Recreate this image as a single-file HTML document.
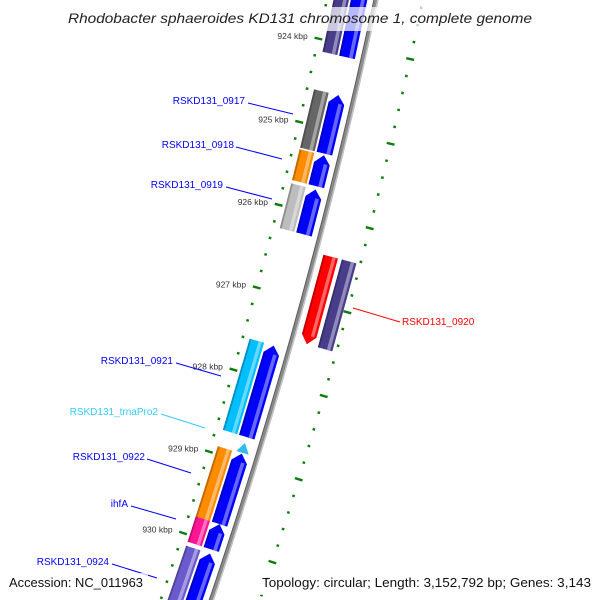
<!DOCTYPE html>
<html><head><meta charset="utf-8"><style>
html,body{margin:0;padding:0;background:#fff;width:600px;height:600px;overflow:hidden;}
svg{display:block;font-family:"Liberation Sans",sans-serif;}
</style></head><body>
<svg id="map" width="600" height="600" viewBox="0 0 600 600" xmlns="http://www.w3.org/2000/svg">
<rect width="600" height="600" fill="#fff"/>
<g id="ticks"></g>
<g id="backbone"></g>
<g id="features"></g>
<g id="labels"></g>
<rect x="62" y="7" width="478" height="24" fill="#fff" fill-opacity="0.72"/>
<text x="68" y="23" font-size="14" font-style="italic" fill="#222" textLength="464" lengthAdjust="spacingAndGlyphs">Rhodobacter sphaeroides KD131 chromosome 1, complete genome</text>
<rect x="4" y="573" width="144" height="22" fill="#fff" fill-opacity="0.72"/>
<text x="9" y="587" font-size="12.5" fill="#111" textLength="134" lengthAdjust="spacingAndGlyphs">Accession: NC_011963</text>
<rect x="258" y="573" width="338" height="22" fill="#fff" fill-opacity="0.72"/>
<text x="262" y="587" font-size="12.5" fill="#111" textLength="329" lengthAdjust="spacingAndGlyphs">Topology: circular; Length: 3,152,792 bp; Genes: 3,143</text>
</svg>
<script>
const geneNames = ["RSKD131_0916","RSKD131_0917","RSKD131_0918","RSKD131_0919","RSKD131_0920","RSKD131_0921","RSKD131_trnaPro2","RSKD131_0922","ihfA","RSKD131_0924"];
const geneStarts = [922.5, 924.59, 925.31, 925.72, 926.43, 927.60, 928.78, 928.91, 929.77, 930.13];
const geneEnds   = [924.14, 925.29, 925.68, 926.26, 927.48, 928.71, 928.90, 929.77, 930.08, 931.6];
const geneStrands = [-1, -1, -1, -1, 1, -1, -1, -1, -1, -1];
const cogColors = ["#483d8b","#666666","#ff8c00","#bdbdbd","#483d8b","#00bfff",null,"#ff8c00","#ff1493","#6a5acd"];
const tickKbp = [922, 923, 924, 925, 926, 927, 928, 929, 930, 931, 932];
const tickLabels = ["922 kbp","923 kbp","924 kbp","925 kbp","926 kbp","927 kbp","928 kbp","929 kbp","930 kbp","931 kbp","932 kbp"];

const NS = "http://www.w3.org/2000/svg";
const CX = -4857, CY = -1113, R = 5350;
function pol(k, dr){
  const a = (12.545 + (k - 924) * 0.9235) * Math.PI / 180;
  const r = R + dr;
  return [CX + r * Math.cos(a), CY + r * Math.sin(a)];
}
function mk(tag, attrs, parent){
  const e = document.createElementNS(NS, tag);
  for (const k in attrs) e.setAttribute(k, attrs[k]);
  parent.appendChild(e);
  return e;
}
function ptsStr(arr){ return arr.map(p => p[0].toFixed(1) + "," + p[1].toFixed(1)).join(" "); }

const tg = document.getElementById("ticks");
for (let i = 0; i <= 55; i++) {
  const k = 922 + i * 0.2;
  const major = Math.abs(k - Math.round(k)) < 1e-6;
  [-48, 46].forEach(function(c){
    const h = major ? 4 : 1.3;
    const p1 = pol(k, c - h), p2 = pol(k, c + h);
    const l = mk("line", {x1:p1[0], y1:p1[1], x2:p2[0], y2:p2[1], stroke:"#0a7d0a", "stroke-width": 2.4}, tg);
    
    
  });
}
tickKbp.forEach(function(k, i){
  const p = pol(k, -59);
  const t = mk("text", {x:p[0], y:p[1] + 3, "font-size":8.5, fill:"#333", "text-anchor":"end"}, tg);
  t.textContent = tickLabels[i];
  
  
});

const bg = document.getElementById("backbone");
function arcPts(dr){ const a = []; for (let k = 922; k <= 932.2; k += 0.2) a.push(pol(k, dr)); return a; }
const bb = mk("polyline", {points: ptsStr(arcPts(0)), fill:"none", stroke:"#8a8a8a", "stroke-width":5}, bg);


const bb2 = mk("polyline", {points: ptsStr(arcPts(1.8)), fill:"none", stroke:"#c4c4c4", "stroke-width":1.4}, bg);


const bb3 = mk("polyline", {points: ptsStr(arcPts(-2)), fill:"none", stroke:"#5e5e5e", "stroke-width":1}, bg);



function lighten(hex, f){
  const n = parseInt(hex.slice(1), 16);
  let r = n >> 16, g = (n >> 8) & 255, b = n & 255;
  r = Math.round(r + (255 - r) * f); g = Math.round(g + (255 - g) * f); b = Math.round(b + (255 - b) * f);
  return "rgb(" + r + "," + g + "," + b + ")";
}
function darken(hex, f){
  const n = parseInt(hex.slice(1), 16);
  return "rgb(" + Math.round((n >> 16) * f) + "," + Math.round(((n >> 8) & 255) * f) + "," + Math.round((n & 255) * f) + ")";
}
const fg = document.getElementById("features");
function drawShape(a, b, d0, d1, head, color, name){
  const hl = Math.min(0.1, (b - a) * 0.6);
  const mid = (d0 + d1) / 2;
  let pts;
  if (head === -1) pts = [pol(a, mid), pol(a + hl, d1), pol(b, d1), pol(b, d0), pol(a + hl, d0)];
  else if (head === 1) pts = [pol(a, d0), pol(a, d1), pol(b - hl, d1), pol(b, mid), pol(b - hl, d0)];
  else pts = [pol(a, d0), pol(a, d1), pol(b, d1), pol(b, d0)];
  const g = mk("g", {}, fg);
  
  
  mk("polygon", {points: ptsStr(pts), fill: color}, g);
  const s0 = head === -1 ? a + hl : a, s1 = head === 1 ? b - hl : b;
  const w = d1 - d0;
  mk("polygon", {points: ptsStr([pol(s0, d0 + w * 0.62), pol(s0, d0 + w * 0.85), pol(s1, d0 + w * 0.85), pol(s1, d0 + w * 0.62)]), fill: lighten(color, 0.4)}, g);
  mk("polygon", {points: ptsStr([pol(s0, d0), pol(s0, d0 + w * 0.12), pol(s1, d0 + w * 0.12), pol(s1, d0)]), fill: darken(color, 0.75)}, g);
}
geneNames.forEach(function(n, i){
  const a = geneStarts[i], b = geneEnds[i], s = geneStrands[i];
  if (n.indexOf("trna") >= 0) {
    const p = [pol(a, -16), pol(b, -22), pol(b, -9)];
    const tr = mk("polygon", {points: ptsStr(p), fill:"#33bbee"}, fg);
    
    
    return;
  }
  if (s < 0) {
    drawShape(a, b, -24, -8, a > 922.6 ? -1 : 0, "#0000ff", "strand-arrow-" + n);
    if (cogColors[i]) drawShape(a, b, -41, -26, 0, cogColors[i], "cog-bar-" + n);
  } else {
    drawShape(a, b, 8, 23, 1, "#ff0000", "strand-arrow-" + n);
    if (cogColors[i]) drawShape(a, b, 27, 42, 0, cogColors[i], "cog-bar-" + n);
  }
});

const lg = document.getElementById("labels");
const labelText = ["RSKD131_0917","RSKD131_0918","RSKD131_0919","RSKD131_0920","RSKD131_0921","RSKD131_trnaPro2","RSKD131_0922","ihfA","RSKD131_0924"];
const labelColor = ["#0000ff","#0000ff","#0000ff","#ff0000","#0000ff","#33ccff","#0000ff","#0000ff","#0000ff"];
const labelLayout = [
  [245,104,"end",248,103,293,114],
  [234,148,"end",236,147,282,159],
  [223,188,"end",226,187,272,199],
  [402,325,"start",400,322,353,308],
  [173,364,"end",176,363,221,376],
  [158,415,"end",161,414,205,428],
  [145,460,"end",147,459,191,473],
  [128,507,"end",131,506,176,519],
  [109,565,"end",112,564,157,578]
];
labelText.forEach(function(t, i){
  const L = labelLayout[i];
  const ln = mk("line", {x1:L[3], y1:L[4], x2:L[5], y2:L[6], stroke:labelColor[i], "stroke-width":1}, lg);
  
  
  const tx = mk("text", {x:L[0], y:L[1], "font-size":10, fill:labelColor[i], "text-anchor":L[2]}, lg);
  tx.textContent = t;
  
  
});
</script>
</body></html>
